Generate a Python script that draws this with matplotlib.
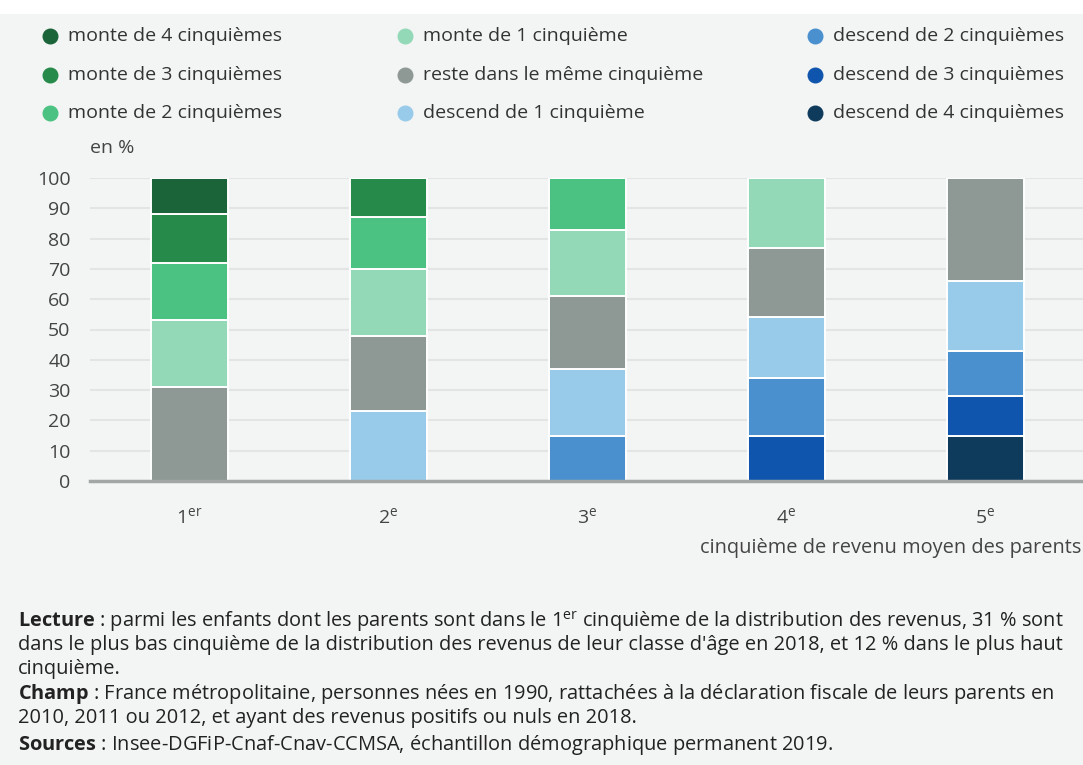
import matplotlib.pyplot as plt
import numpy as np
from matplotlib.lines import Line2D
from matplotlib.patches import Rectangle

plt.rcParams['font.family'] = ['Open Sans', 'DejaVu Sans']
plt.rcParams['mathtext.fontset'] = 'custom'
plt.rcParams['mathtext.rm'] = 'Open Sans'
plt.rcParams['mathtext.bf'] = 'Open Sans:bold'

# Données (en %)
quintiles = ['1$^{\\mathregular{er}}$', '2$^{\\mathregular{e}}$', '3$^{\\mathregular{e}}$',
             '4$^{\\mathregular{e}}$', '5$^{\\mathregular{e}}$']
labels = ['monte de 4 cinquièmes', 'monte de 3 cinquièmes', 'monte de 2 cinquièmes',
          'monte de 1 cinquième', 'reste dans le même cinquième', 'descend de 1 cinquième',
          'descend de 2 cinquièmes', 'descend de 3 cinquièmes', 'descend de 4 cinquièmes']
colors = ['#1b6339', '#268a4a', '#4bc282', '#93d9b8', '#8e9895', '#98cbea',
          '#4a90cf', '#0f55ad', '#0e3a5c']
monte4 = [12, 0, 0, 0, 0]
monte3 = [16, 13, 0, 0, 0]
monte2 = [19, 17, 17, 0, 0]
monte1 = [22, 22, 22, 23, 0]
reste = [31, 25, 24, 23, 34]
desc1 = [0, 23, 22, 20, 23]
desc2 = [0, 0, 15, 19, 15]
desc3 = [0, 0, 0, 15, 13]
desc4 = [0, 0, 0, 0, 15]
series = [monte4, monte3, monte2, monte1, reste, desc1, desc2, desc3, desc4]

W, H = 1083, 765
fig = plt.figure(figsize=(W / 100, H / 100), dpi=100)
fig.patch.set_facecolor('white')
fig.add_artist(Rectangle((0, 0), 1, 1 - 14 / H, transform=fig.transFigure,
                         facecolor='#f3f5f4', edgecolor='none', zorder=-10))

ax = fig.add_axes([90 / W, 1 - 481 / H, (1085 - 90) / W, (481 - 178) / H])
ax.set_facecolor('none')

x = np.arange(len(quintiles))
bottom = np.zeros(len(quintiles))
# empiler du bas (descend de 4) vers le haut (monte de 4)
for vals, col in reversed(list(zip(series, colors))):
    vals = np.array(vals, dtype=float)
    ax.bar(x, vals, bottom=bottom, width=0.39, color=col, edgecolor='white',
           linewidth=1.4, zorder=3)
    bottom += vals

ax.set_xlim(-0.5, 4.5)
ax.set_ylim(0, 100)
ax.set_yticks(range(0, 101, 10))
ax.set_xticks(x)
ax.set_xticklabels(quintiles)
ax.yaxis.grid(True, color='#e3e5e4', linewidth=1.5, zorder=0)
ax.set_axisbelow(True)
for s in ['top', 'right', 'left']:
    ax.spines[s].set_visible(False)
ax.spines['bottom'].set_color('#a3a7a6')
ax.spines['bottom'].set_linewidth(2.5)
ax.spines['bottom'].set_zorder(4)
ax.tick_params(axis='both', length=0, labelsize=14, colors='#444444')
ax.tick_params(axis='x', pad=19)
ax.tick_params(axis='y', pad=14)

fig.text(90 / W, 1 - 148 / H, 'en %', fontsize=14, color='#444444', va='center')
fig.text(1081 / W, 1 - 548 / H, 'cinquième de revenu moyen des parents', fontsize=14.4,
         color='#444444', ha='right', va='center')

# Légende
col_x = [50, 405, 815]
row_y = [36, 75, 113]
for i, (lab, col) in enumerate(zip(labels, colors)):
    cx, cy = col_x[i // 3], row_y[i % 3]
    fig.add_artist(Line2D([cx / W], [1 - cy / H], marker='o', markersize=10.5,
                          color=col, transform=fig.transFigure))
    fig.text((cx + 18) / W, 1 - cy / H, lab, fontsize=14, color='#333333', va='center')

# Notes
notes = [
    (622, r'$\bf{Lecture}$ : parmi les enfants dont les parents sont dans le 1$^{\mathregular{er}}$ cinquième de la distribution des revenus, 31 % sont'),
    (645, "dans le plus bas cinquième de la distribution des revenus de leur classe d'âge en 2018, et 12 % dans le plus haut"),
    (669, 'cinquième.'),
    (694, r'$\bf{Champ}$ : France métropolitaine, personnes nées en 1990, rattachées à la déclaration fiscale de leurs parents en'),
    (718, '2010, 2011 ou 2012, et ayant des revenus positifs ou nuls en 2018.'),
    (745, r'$\bf{Sources}$ : Insee-DGFiP-Cnaf-Cnav-CCMSA, échantillon démographique permanent 2019.'),
]
for y, t in notes:
    fig.text(18 / W, 1 - y / H, t, fontsize=14.4, color='#222222', va='center')

fig.savefig('out.png', dpi=100, facecolor=fig.get_facecolor())
